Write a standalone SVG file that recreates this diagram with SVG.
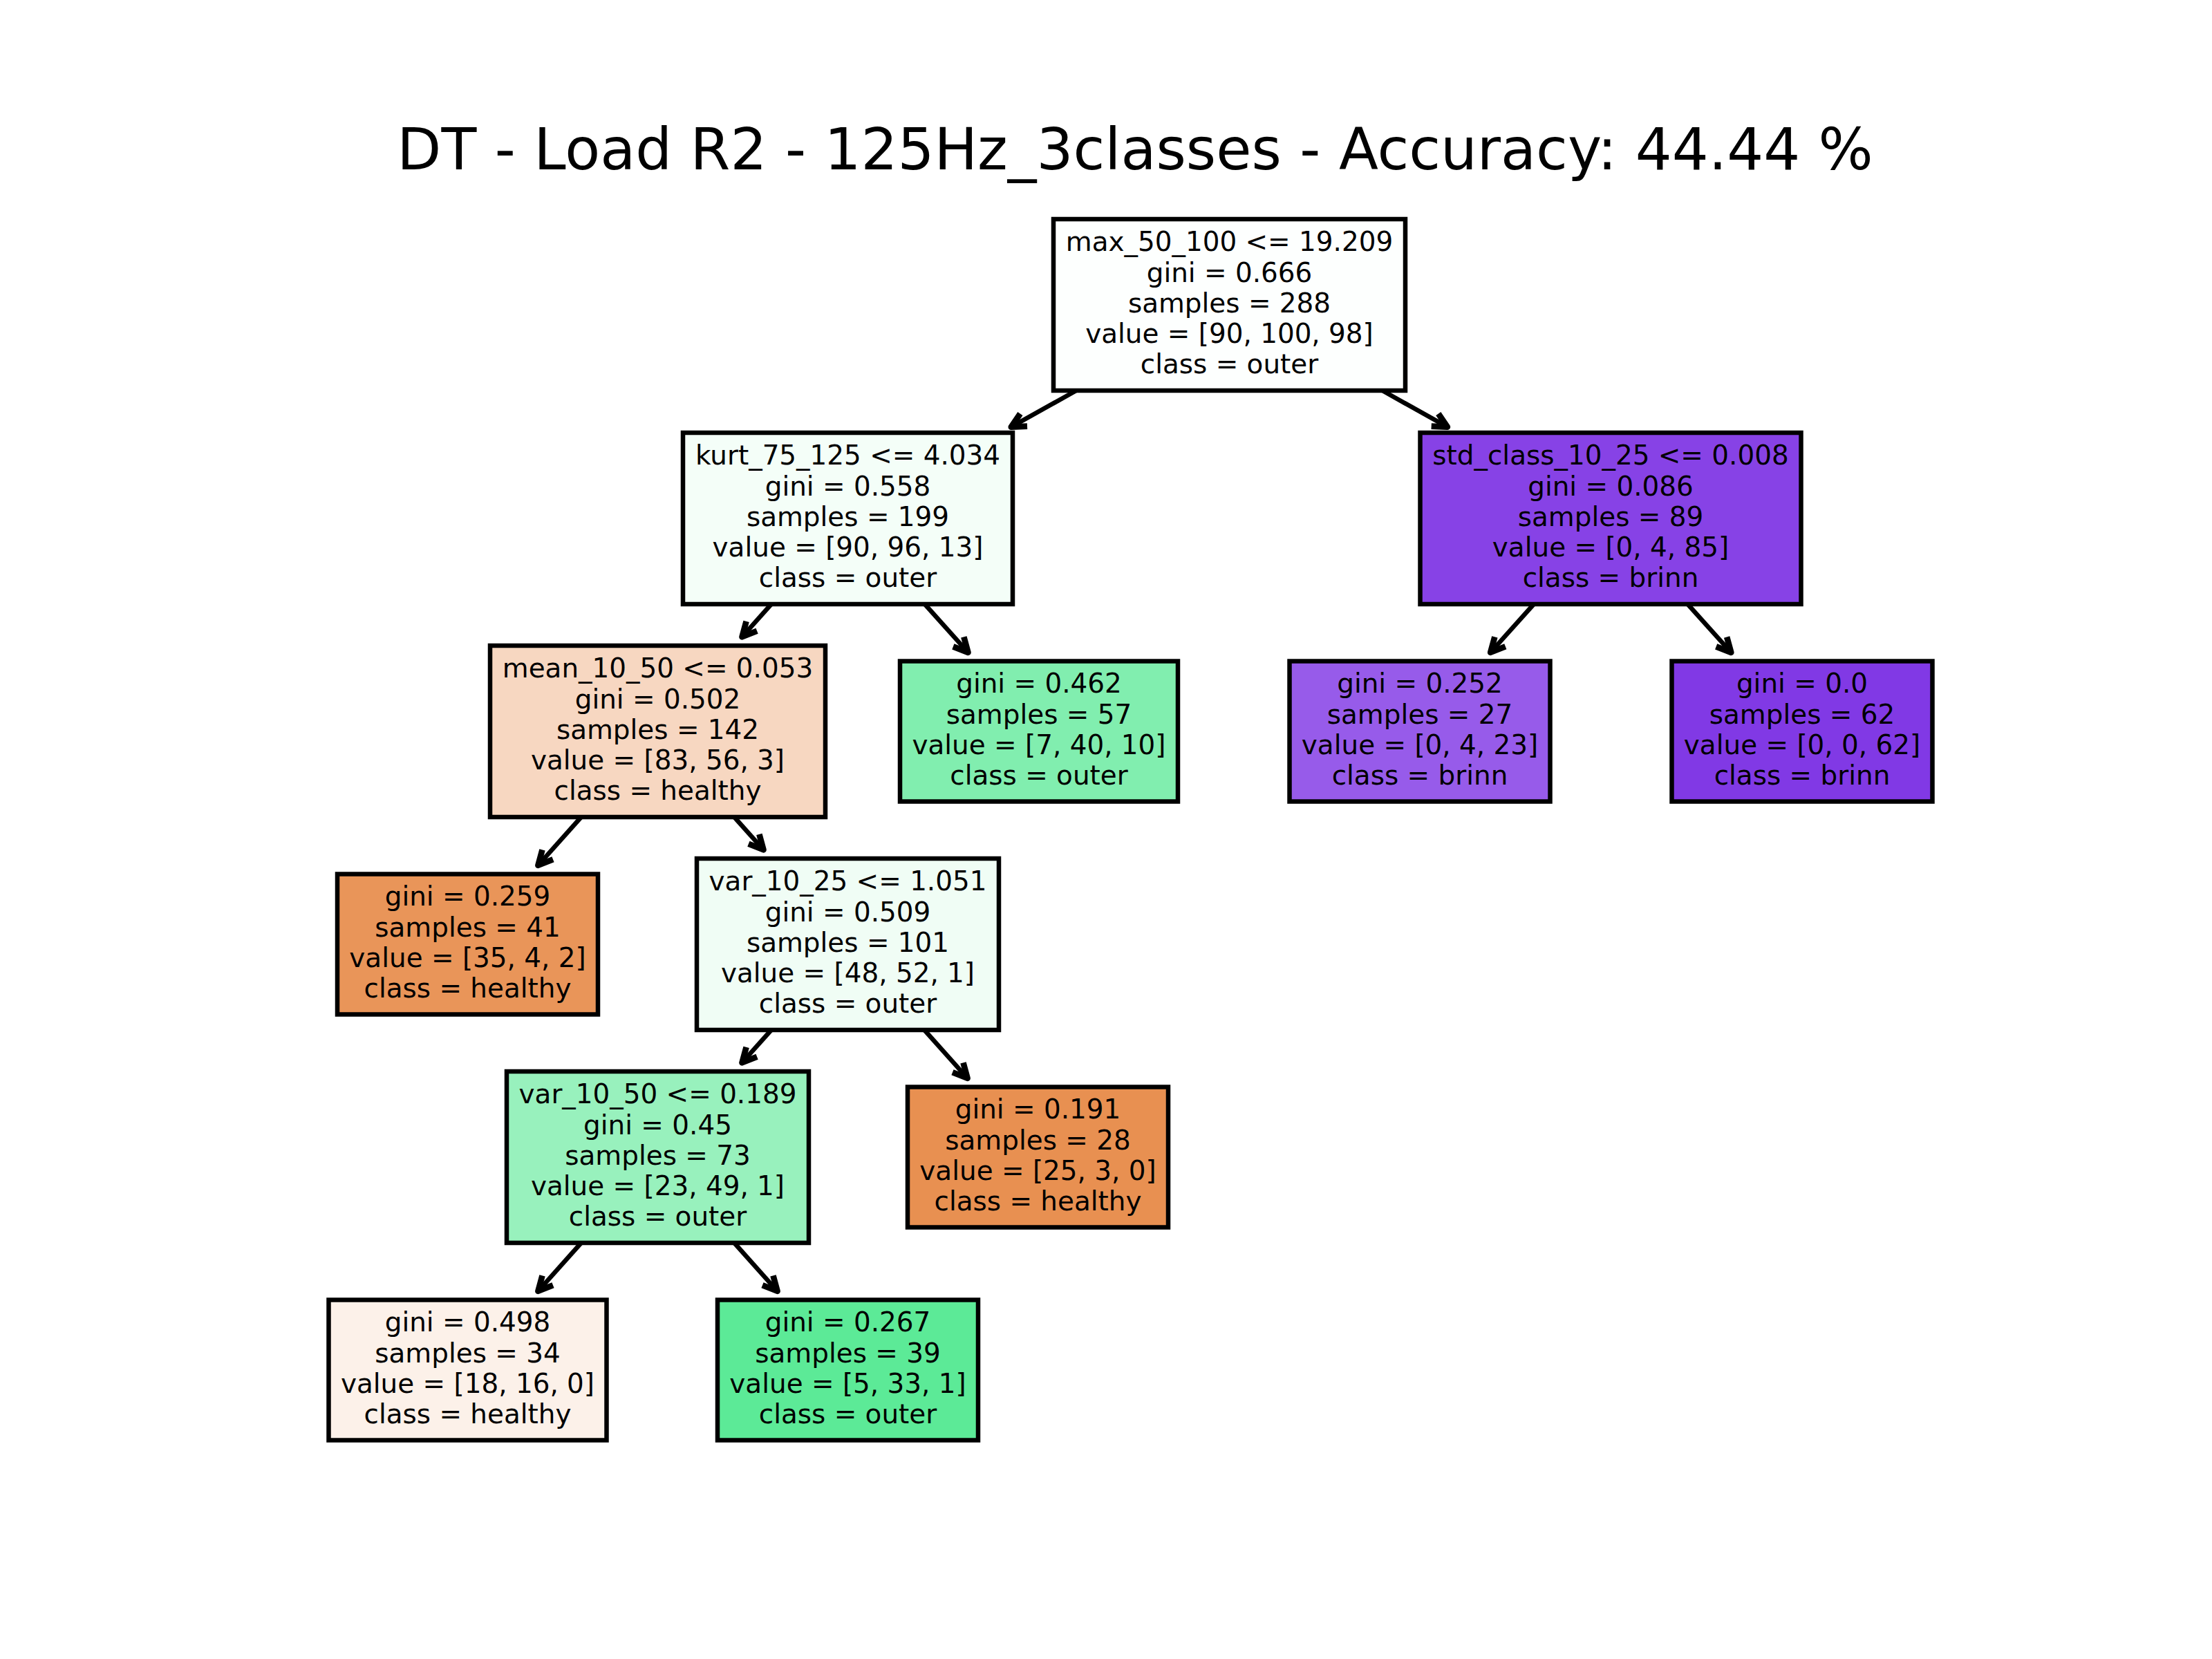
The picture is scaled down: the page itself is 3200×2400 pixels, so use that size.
<svg xmlns="http://www.w3.org/2000/svg" width="3200" height="2400" viewBox="0 0 3200 2400">
<defs>
<style>
.box{stroke:#000;stroke-width:6.5}
.t{font-family:"DejaVu Sans","Liberation Sans",sans-serif;font-size:38.9px;fill:#000;text-anchor:middle}
.title{font-family:"DejaVu Sans","Liberation Sans",sans-serif;font-size:83.3px;fill:#000;text-anchor:middle}
.edge{stroke:#000;stroke-width:6.5;fill:none;marker-end:url(#ah)}
</style>
<marker id="ah" markerUnits="userSpaceOnUse" orient="auto" refX="0" refY="0" markerWidth="40" markerHeight="40" viewBox="-25 -15 30 30" overflow="visible">
<path d="M-15.6,-7.8 L0,0 L-15.6,7.8" fill="none" stroke="#000" stroke-width="6.5" stroke-linejoin="round" stroke-linecap="butt"/>
</marker>
</defs>
<rect x="0" y="0" width="3200" height="2400" fill="#fff"/>
<text class="title" x="1642" y="245">DT - Load R2 - 125Hz_3classes - Accuracy: 44.44 %</text>
<g id="connectors">
<path class="edge" d="M1557,565 L1462.8,617.7"/>
<path class="edge" d="M1999.8,565 L2093.9,617.7"/>
<path class="edge" d="M1115.8,874 L1073.5,921.3"/>
<path class="edge" d="M1337.8,874 L1400.5,943.9"/>
<path class="edge" d="M2218.9,874 L2156.2,943.8"/>
<path class="edge" d="M2441.5,874 L2504.3,943.9"/>
<path class="edge" d="M840.8,1182 L778.4,1251.8"/>
<path class="edge" d="M1062.2,1182 L1104.5,1229.3"/>
<path class="edge" d="M1115.8,1490 L1073.5,1537.3"/>
<path class="edge" d="M1337.2,1490 L1399.6,1559.8"/>
<path class="edge" d="M840.8,1798 L778.4,1867.8"/>
<path class="edge" d="M1062.2,1798 L1124.6,1867.8"/>
</g>
<g id="node0">
<rect class="box" x="1524" y="317" width="509" height="248" fill="#fdfffe"/>
<text class="t"><tspan x="1778.5" y="363.3">max_50_100 &lt;= 19.209</tspan><tspan x="1778.5" y="407.5">gini = 0.666</tspan><tspan x="1778.5" y="451.7">samples = 288</tspan><tspan x="1778.5" y="495.9">value = [90, 100, 98]</tspan><tspan x="1778.5" y="540.1">class = outer</tspan></text>
</g>
<g id="node1">
<rect class="box" x="988" y="626" width="477" height="248" fill="#f4fef8"/>
<text class="t"><tspan x="1226.5" y="672.3">kurt_75_125 &lt;= 4.034</tspan><tspan x="1226.5" y="716.5">gini = 0.558</tspan><tspan x="1226.5" y="760.7">samples = 199</tspan><tspan x="1226.5" y="804.9">value = [90, 96, 13]</tspan><tspan x="1226.5" y="849.1">class = outer</tspan></text>
</g>
<g id="node2">
<rect class="box" x="709" y="934" width="485" height="248" fill="#f7d7c1"/>
<text class="t"><tspan x="951.5" y="980.3">mean_10_50 &lt;= 0.053</tspan><tspan x="951.5" y="1024.5">gini = 0.502</tspan><tspan x="951.5" y="1068.7">samples = 142</tspan><tspan x="951.5" y="1112.9">value = [83, 56, 3]</tspan><tspan x="951.5" y="1157.1">class = healthy</tspan></text>
</g>
<g id="node3">
<rect class="box" x="488" y="1264.5" width="377" height="203" fill="#e99559"/>
<text class="t"><tspan x="676.5" y="1310.4">gini = 0.259</tspan><tspan x="676.5" y="1354.6">samples = 41</tspan><tspan x="676.5" y="1398.8">value = [35, 4, 2]</tspan><tspan x="676.5" y="1443">class = healthy</tspan></text>
</g>
<g id="node4">
<rect class="box" x="1008" y="1242" width="437" height="248" fill="#f0fdf5"/>
<text class="t"><tspan x="1226.5" y="1288.3">var_10_25 &lt;= 1.051</tspan><tspan x="1226.5" y="1332.5">gini = 0.509</tspan><tspan x="1226.5" y="1376.7">samples = 101</tspan><tspan x="1226.5" y="1420.9">value = [48, 52, 1]</tspan><tspan x="1226.5" y="1465.1">class = outer</tspan></text>
</g>
<g id="node5">
<rect class="box" x="733" y="1550" width="437" height="248" fill="#98f1bd"/>
<text class="t"><tspan x="951.5" y="1596.3">var_10_50 &lt;= 0.189</tspan><tspan x="951.5" y="1640.5">gini = 0.45</tspan><tspan x="951.5" y="1684.7">samples = 73</tspan><tspan x="951.5" y="1728.9">value = [23, 49, 1]</tspan><tspan x="951.5" y="1773.1">class = outer</tspan></text>
</g>
<g id="node6">
<rect class="box" x="475.5" y="1880.5" width="402" height="203" fill="#fcf1e9"/>
<text class="t"><tspan x="676.5" y="1926.4">gini = 0.498</tspan><tspan x="676.5" y="1970.6">samples = 34</tspan><tspan x="676.5" y="2014.8">value = [18, 16, 0]</tspan><tspan x="676.5" y="2059">class = healthy</tspan></text>
</g>
<g id="node7">
<rect class="box" x="1038" y="1880.5" width="377" height="203" fill="#5cea97"/>
<text class="t"><tspan x="1226.5" y="1926.4">gini = 0.267</tspan><tspan x="1226.5" y="1970.6">samples = 39</tspan><tspan x="1226.5" y="2014.8">value = [5, 33, 1]</tspan><tspan x="1226.5" y="2059">class = outer</tspan></text>
</g>
<g id="node8">
<rect class="box" x="1313" y="1572.5" width="377" height="203" fill="#e89051"/>
<text class="t"><tspan x="1501.5" y="1618.4">gini = 0.191</tspan><tspan x="1501.5" y="1662.6">samples = 28</tspan><tspan x="1501.5" y="1706.8">value = [25, 3, 0]</tspan><tspan x="1501.5" y="1751">class = healthy</tspan></text>
</g>
<g id="node9">
<rect class="box" x="1302" y="956.5" width="402" height="203" fill="#81eeaf"/>
<text class="t"><tspan x="1503" y="1002.4">gini = 0.462</tspan><tspan x="1503" y="1046.6">samples = 57</tspan><tspan x="1503" y="1090.8">value = [7, 40, 10]</tspan><tspan x="1503" y="1135">class = outer</tspan></text>
</g>
<g id="node10">
<rect class="box" x="2054.5" y="626" width="551" height="248" fill="#8742e6"/>
<text class="t"><tspan x="2330" y="672.3">std_class_10_25 &lt;= 0.008</tspan><tspan x="2330" y="716.5">gini = 0.086</tspan><tspan x="2330" y="760.7">samples = 89</tspan><tspan x="2330" y="804.9">value = [0, 4, 85]</tspan><tspan x="2330" y="849.1">class = brinn</tspan></text>
</g>
<g id="node11">
<rect class="box" x="1865.5" y="956.5" width="377" height="203" fill="#975bea"/>
<text class="t"><tspan x="2054" y="1002.4">gini = 0.252</tspan><tspan x="2054" y="1046.6">samples = 27</tspan><tspan x="2054" y="1090.8">value = [0, 4, 23]</tspan><tspan x="2054" y="1135">class = brinn</tspan></text>
</g>
<g id="node12">
<rect class="box" x="2418.5" y="956.5" width="377" height="203" fill="#8139e5"/>
<text class="t"><tspan x="2607" y="1002.4">gini = 0.0</tspan><tspan x="2607" y="1046.6">samples = 62</tspan><tspan x="2607" y="1090.8">value = [0, 0, 62]</tspan><tspan x="2607" y="1135">class = brinn</tspan></text>
</g>
</svg>
